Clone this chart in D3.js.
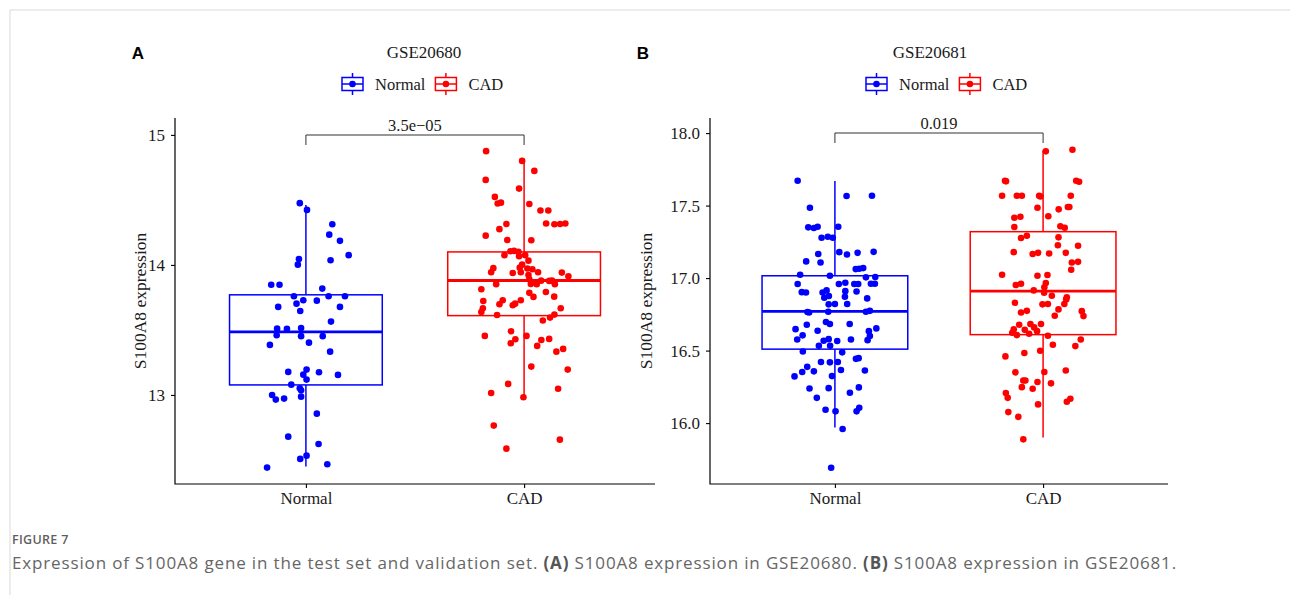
<!DOCTYPE html>
<html>
<head>
<meta charset="utf-8">
<script src="https://cdn.jsdelivr.net/npm/d3@7"></script>
<style>
  body { margin: 0; background: #fff; }
  svg { display: block; }
</style>
</head>
<body>
<div id="root"></div>
<script>
const width = 1290;
const height = 595;

const groups = ['Normal', 'CAD'];
const colors = ['#0000ff', '#ff0000'];

// GSE20680 (panel A); jitter is a fraction of the band step
const aNormalVal = [14.475, 14.423, 14.313, 14.233, 14.185, 14.075, 14.046, 14.002, 14.036, 13.848,
  13.848, 13.818, 13.759, 13.759, 13.759, 13.728, 13.702, 13.725, 13.677, 13.677,
  13.646, 13.564, 13.510, 13.508, 13.515, 13.459, 13.452, 13.452, 13.385, 13.402,
  13.333, 13.177, 13.195, 13.175, 13.154, 13.156, 13.118, 13.079, 13.052, 13.036,
  13.000, 12.964, 12.972, 12.987, 12.856, 12.679, 12.623, 12.533, 12.508, 12.467, 12.441];
const aNormalJit = [-0.028, 0.005, 0.121, 0.107, 0.156, 0.196, -0.032, -0.037, 0.113, -0.159,
  -0.121, 0.075, -0.055, 0.104, 0.179, -0.012, -0.043, 0.05, -0.127, 0.156,
  -0.026, 0.115, -0.132, -0.087, -0.022, -0.134, -0.022, 0.077, -0.165, 0.014,
  0.111, -0.081, 0.003, 0.06, 0.147, -0.012, 0.003, -0.067, -0.028, -0.022,
  -0.155, -0.138, -0.1, -0.022, 0.05, -0.081, 0.058, 0.003, -0.026, 0.098, -0.178];
const aCadVal = [14.875, 14.8, 14.723, 14.654, 14.587, 14.523, 14.472, 14.479, 14.469, 14.418,
  14.418, 14.318, 14.313, 14.315, 14.318, 14.315, 14.275, 14.225, 14.192, 14.19,
  14.075, 14.105, 14.108, 14.1, 14.067, 14.075, 14.033, 14.002, 13.979, 13.975,
  13.944, 13.938, 13.944, 13.972, 13.967, 13.923, 13.944, 13.941, 13.913, 13.89,
  13.852, 13.854, 13.852, 13.879, 13.877, 13.879, 13.852, 13.813, 13.792, 13.785,
  13.754, 13.756, 13.723, 13.728, 13.698, 13.728, 13.702, 13.69, 13.667, 13.638,
  13.615, 13.667, 13.618, 13.595, 13.572, 13.49, 13.454, 13.454, 13.428, 13.423,
  13.431, 13.398, 13.377, 13.333, 13.354, 13.218, 13.195, 13.085, 13.015, 13.048,
  12.982, 12.764, 12.656, 12.587];
const aCadJit = [-0.174, -0.009, 0.047, -0.176, -0.023, -0.134, -0.121, -0.106, 0.024, 0.075,
  0.111, 0.101, 0.139, 0.165, 0.189, -0.081, -0.113, -0.176, -0.077, 0.033,
  -0.09, -0.063, -0.046, -0.026, -0.023, 0.005, 0.02, -0.009, -0.02, -0.141,
  -0.151, -0.052, -0.015, 0.015, 0.038, 0.02, 0.064, 0.173, 0.203, 0.024,
  -0.128, 0.031, 0.058, 0.078, 0.115, 0.128, 0.141, -0.196, 0.1, 0.024,
  0.043, 0.138, -0.187, -0.098, -0.113, -0.015, -0.041, -0.052, -0.189, -0.196,
  -0.124, 0.168, 0.139, 0.119, 0.086, -0.06, 0.011, -0.18, -0.04, 0.079,
  0.115, -0.061, 0.06, 0.148, 0.179, 0.033, 0.2, -0.073, -0.151, 0.156,
  -0.003, -0.139, 0.164, -0.081];

// GSE20681 (panel B)
const bNormalVal = [17.671, 17.566, 17.568, 17.485, 17.35, 17.345, 17.354, 17.354, 17.278, 17.285,
  17.278, 17.179, 17.163, 17.174, 17.181, 17.166, 17.115, 17.108, 17.062, 17.064,
  17.069, 17.023, 17.016, 17.005, 17.007, 16.959, 16.959, 16.968, 16.959, 16.959,
  16.961, 16.961, 16.903, 16.901, 16.901, 16.915, 16.91, 16.908, 16.864, 16.876,
  16.871, 16.86, 16.819, 16.821, 16.821, 16.766, 16.763, 16.768, 16.768, 16.774,
  16.697, 16.683, 16.683, 16.678, 16.648, 16.637, 16.634, 16.653, 16.6, 16.572,
  16.605, 16.577, 16.568, 16.579, 16.566, 16.577, 16.533, 16.533, 16.494, 16.488,
  16.421, 16.419, 16.421, 16.443, 16.448, 16.388, 16.352, 16.322, 16.357, 16.366,
  16.363, 16.324, 16.239, 16.241, 16.246, 16.209, 16.174, 16.092, 16.081, 16.106,
  16.081, 15.959, 15.692];
const bNormalJit = [-0.179, 0.056, 0.178, -0.12, -0.128, -0.101, -0.083, 0.016, -0.064, -0.034,
  -0.01, 0.021, 0.058, 0.109, 0.186, -0.08, -0.138, -0.069, 0.1, 0.117,
  0.136, -0.167, -0.024, 0.149, 0.194, -0.179, 0.019, 0.05, 0.093, 0.112,
  0.173, 0.192, -0.159, -0.139, -0.059, -0.04, 0.05, 0.104, -0.051, -0.029,
  0.048, 0.155, -0.03, 0, 0.059, -0.132, -0.124, -0.032, 0.149, 0.168,
  -0.043, -0.024, 0.071, -0.135, -0.189, -0.083, 0.163, 0.199, 0.168, 0.157,
  -0.155, -0.181, -0.054, -0.03, 0.011, 0.077, -0.077, -0.023, -0.154, 0.035,
  -0.067, -0.024, 0.014, 0.101, 0.114, -0.133, -0.157, -0.194, -0.101, 0.029,
  0.144, -0.014, -0.122, -0.03, 0.115, 0.072, -0.087, -0.045, 0.003, 0.117,
  0.104, 0.037, -0.018];
const bCadVal = [17.874, 17.885, 17.671, 17.667, 17.671, 17.664, 17.568, 17.568, 17.568, 17.568,
  17.563, 17.568, 17.485, 17.474, 17.49, 17.49, 17.416, 17.423, 17.426, 17.352,
  17.357, 17.347, 17.276, 17.292, 17.281, 17.226, 17.223, 17.179, 17.166, 17.174,
  17.17, 17.174, 17.108, 17.112, 17.057, 17.023, 17.016, 17.021, 16.952, 16.961,
  16.966, 16.936, 16.915, 16.899, 16.878, 16.867, 16.853, 16.83, 16.819, 16.821,
  16.821, 16.763, 16.774, 16.74, 16.784, 16.772, 16.738, 16.678, 16.683, 16.66,
  16.683, 16.646, 16.623, 16.607, 16.643, 16.616, 16.634, 16.602, 16.577, 16.54,
  16.531, 16.46, 16.483, 16.499, 16.35, 16.352, 16.363, 16.294, 16.294, 16.283,
  16.274, 16.248, 16.237, 16.207, 16.174, 16.129, 16.147, 16.168, 16.076, 16.043, 15.888];
const bCadJit = [0.013, 0.141, -0.183, -0.178, 0.159, 0.173, -0.197, -0.126, -0.102, -0.019,
  -0.013, 0.133, -0.027, 0.075, 0.119, 0.126, -0.138, -0.109, 0.025, -0.138,
  0.083, 0.104, -0.106, -0.078, 0.074, 0.071, 0.168, -0.141, -0.05, -0.024,
  0.029, 0.109, 0.138, 0.168, 0.135, -0.197, -0.027, 0.021, -0.131, -0.106,
  0.013, 0.006, -0.045, 0.005, 0.042, 0.114, 0.111, -0.135, -0.003, 0.023,
  0.102, -0.106, -0.078, 0.056, 0.074, 0.186, 0.194, -0.115, -0.061, -0.043,
  -0.01, -0.141, -0.148, -0.126, -0.088, -0.067, -0.029, 0.023, 0.181, 0.047,
  0.155, -0.181, -0.09, -0.014, -0.133, 0.006, 0.109, -0.095, -0.085, -0.027,
  0.038, -0.102, -0.05, -0.179, -0.17, -0.024, 0.114, 0.131, -0.167, -0.119, -0.095];

// box stats: [lower whisker, Q1, median, Q3, upper whisker]
const aNormalBox = [12.45, 13.077, 13.485, 13.77, 14.46];
const aCadBox = [12.98, 13.61, 13.88, 14.10, 14.80];
const bNormalBox = [15.97, 16.51, 16.77, 17.016, 17.67];
const bCadBox = [15.90, 16.61, 16.91, 17.32, 17.88];

const aTicks = [13, 14, 15];
const bTicks = [16.0, 16.5, 17.0, 17.5, 18.0];

const panels = [
  {letter: 'A', title: 'GSE20680', pLabel: '3.5e\u221205', left: 175, right: 655,
    yDomain: [12.315, 15.13], ticks: aTicks, fmt: d3.format('d'), bracketY: 135,
    letterX: 138, titleX: 424, legendX: 342, yLabelX: 140,
    data: [[aNormalVal, aNormalJit], [aCadVal, aCadJit]], boxes: [aNormalBox, aCadBox]},
  {letter: 'B', title: 'GSE20681', pLabel: '0.019', left: 710, right: 1168,
    yDomain: [15.58, 18.104], ticks: bTicks, fmt: d3.format('.1f'), bracketY: 133,
    letterX: 643, titleX: 930, legendX: 866, yLabelX: 646,
    data: [[bNormalVal, bNormalJit], [bCadVal, bCadJit]], boxes: [bNormalBox, bCadBox]}
];

const serif = '"Liberation Serif", "Times New Roman", serif';
const plotTop = 118, plotBottom = 484;

const svg = d3.select('#root').append('svg')
  .attr('width', width)
  .attr('height', height);

// page frame
svg.append('path')
  .attr('d', `M10,${height} V10 H${width}`)
  .attr('fill', 'none')
  .attr('stroke', '#d9d9d9')
  .attr('stroke-width', 1);

panels.forEach(p => {
  const g = svg.append('g');
  const x = d3.scalePoint().domain(groups).range([p.left, p.right]).padding(0.6);
  const y = d3.scaleLinear().domain(p.yDomain).range([plotBottom, plotTop]);
  const step = x.step();
  const halfBox = step * 0.35;

  // panel letter and title
  g.append('text').attr('x', p.letterX).attr('y', 59)
    .attr('text-anchor', 'middle')
    .style('font', 'bold 17px "Liberation Sans", Arial, sans-serif')
    .text(p.letter);
  g.append('text').attr('x', p.titleX).attr('y', 58)
    .attr('text-anchor', 'middle')
    .style('font-family', serif).style('font-size', '17px').attr('fill', '#1a1a1a')
    .text(p.title);

  // legend
  let lx = p.legendX;
  groups.forEach((name, i) => {
    const lg = g.append('g').attr('transform', `translate(${lx},84)`);
    lg.append('line').attr('x1', 10.5).attr('x2', 10.5).attr('y1', -11).attr('y2', 11)
      .attr('stroke', colors[i]).attr('stroke-width', 1.5);
    lg.append('rect').attr('x', 0).attr('y', -6.5).attr('width', 21).attr('height', 13)
      .attr('fill', '#fff').attr('stroke', colors[i]).attr('stroke-width', 1.5);
    lg.append('line').attr('x1', 0).attr('x2', 21).attr('y1', 0).attr('y2', 0)
      .attr('stroke', colors[i]).attr('stroke-width', 1.5);
    lg.append('circle').attr('cx', 10.5).attr('cy', 0).attr('r', 3.3).attr('fill', colors[i]);
    const t = lg.append('text').attr('x', 33).attr('y', 6)
      .style('font-family', serif).style('font-size', '16.5px').attr('fill', '#1a1a1a')
      .text(name);
    lx += 33 + t.node().getComputedTextLength() + 10;
  });

  // axes
  const yAxis = g.append('g').attr('transform', `translate(${p.left},0)`)
    .call(d3.axisLeft(y).tickValues(p.ticks).tickFormat(p.fmt).tickSize(4).tickPadding(6));
  const xAxis = g.append('g').attr('transform', `translate(0,${plotBottom})`)
    .call(d3.axisBottom(x).tickSize(4).tickPadding(4));
  [yAxis, xAxis].forEach(ax => {
    ax.select('.domain').attr('d', null);
    ax.selectAll('.tick line').attr('stroke', '#000').attr('stroke-width', 1.1);
    ax.selectAll('.tick text').style('font-family', serif).style('font-size', '17px')
      .attr('fill', '#1a1a1a');
  });
  g.append('path')
    .attr('d', `M${p.left},${plotTop} V${plotBottom} H${p.right}`)
    .attr('fill', 'none').attr('stroke', '#000').attr('stroke-width', 1.2);

  g.append('text')
    .attr('transform', `translate(${p.yLabelX},${(plotTop + plotBottom) / 2}) rotate(-90)`)
    .attr('text-anchor', 'middle')
    .attr('dy', '0.35em')
    .style('font-family', serif).style('font-size', '17.5px').attr('fill', '#1a1a1a')
    .text('S100A8 expression');

  // boxes
  groups.forEach((name, i) => {
    const b = p.boxes[i];
    const cx = x(name);
    const bg = g.append('g').attr('stroke', colors[i]).attr('fill', 'none');
    bg.append('line').attr('x1', cx).attr('x2', cx).attr('y1', y(b[0])).attr('y2', y(b[1]))
      .attr('stroke-width', 1.5);
    bg.append('line').attr('x1', cx).attr('x2', cx).attr('y1', y(b[3])).attr('y2', y(b[4]))
      .attr('stroke-width', 1.5);
    bg.append('rect').attr('x', cx - halfBox).attr('y', y(b[3]))
      .attr('width', halfBox * 2).attr('height', y(b[1]) - y(b[3]))
      .attr('stroke-width', 1.5);
    bg.append('line').attr('x1', cx - halfBox).attr('x2', cx + halfBox)
      .attr('y1', y(b[2])).attr('y2', y(b[2])).attr('stroke-width', 2.8);
  });

  // jittered points
  groups.forEach((name, i) => {
    const [vals, jit] = p.data[i];
    g.append('g').selectAll('circle')
      .data(vals)
      .join('circle')
      .attr('cx', (d, k) => x(name) + jit[k] * step)
      .attr('cy', d => y(d))
      .attr('r', 3.3)
      .attr('fill', colors[i]);
  });

  // significance bracket
  const x1 = x(groups[0]), x2 = x(groups[1]);
  const by = p.bracketY;
  g.append('path')
    .attr('d', `M${x1},${by + 10} V${by} H${x2} V${by + 10}`)
    .attr('fill', 'none').attr('stroke', '#333').attr('stroke-width', 1);
  g.append('text').attr('x', (x1 + x2) / 2).attr('y', by - 4)
    .attr('text-anchor', 'middle')
    .style('font-family', serif).style('font-size', '16.5px').attr('fill', '#1a1a1a')
    .text(p.pLabel);
});

// caption
svg.append('text').attr('x', 12).attr('y', 544)
  .style('font', '600 12.5px "Open Sans", sans-serif').attr('fill', '#5f5f5f')
  .attr('letter-spacing', 0.3)
  .text('FIGURE 7');

const cap = svg.append('text').attr('x', 12).attr('y', 569)
  .style('font', '17px "Open Sans", sans-serif').attr('fill', '#666');
cap.append('tspan').text('Expression of S100A8 gene in the test set and validation set. ');
cap.append('tspan').attr('font-weight', 700).attr('fill', '#555').text('(A)');
cap.append('tspan').text(' S100A8 expression in GSE20680. ');
cap.append('tspan').attr('font-weight', 700).attr('fill', '#555').text('(B)');
cap.append('tspan').text(' S100A8 expression in GSE20681.');
// stretch letter spacing so the caption runs to the same right edge as the figure's
const capLen = cap.node().getComputedTextLength();
const capChars = cap.text().length;
cap.attr('letter-spacing', Math.max(0, (1165 - capLen) / capChars));
</script>
</body>
</html>
